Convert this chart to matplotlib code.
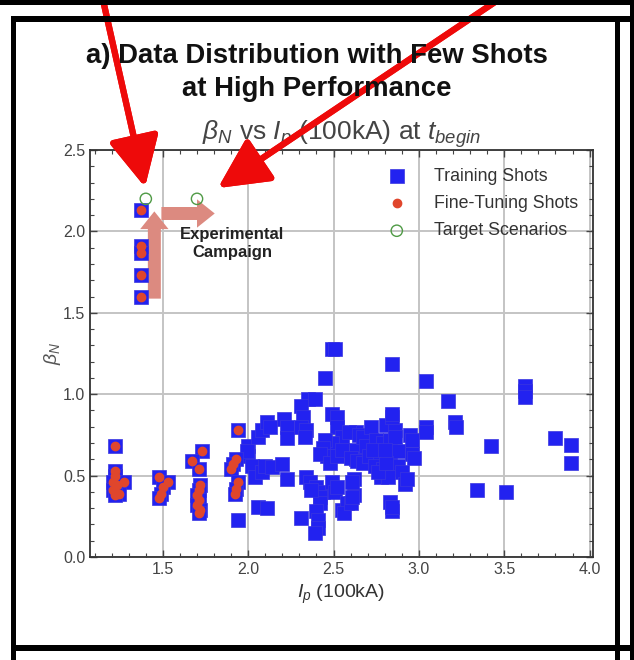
import numpy as np
import matplotlib.pyplot as plt
from matplotlib.patches import Rectangle
from matplotlib.ticker import MultipleLocator

plt.rcParams['font.family'] = ['Liberation Sans', 'DejaVu Sans']
plt.rcParams['mathtext.fontset'] = 'custom'
plt.rcParams['mathtext.rm'] = 'Liberation Sans'
plt.rcParams['mathtext.it'] = 'Liberation Sans:italic'

# training shots (blue squares)
train_ip = [1.94, 2.00, 2.00, 2.02, 2.04, 1.99, 2.06, 2.08, 2.11, 2.13, 2.21, 2.23, 2.23,
            2.08, 2.10, 2.14, 2.20, 2.23, 2.06, 2.11, 2.31,
            2.35, 2.39, 2.31, 2.32, 2.31, 2.34, 2.33,
            2.34, 2.36, 2.40, 2.44, 2.42, 2.42, 2.40, 2.41, 2.41, 2.39, 2.37,
            2.49, 2.51, 2.45,
            2.49, 2.52, 2.52, 2.55, 2.49, 2.45, 2.44, 2.46, 2.42, 2.48, 2.52, 2.55,
            2.49, 2.51, 2.52, 2.55, 2.58, 2.56, 2.60, 2.62, 2.61, 2.62, 2.61,
            2.63, 2.59, 2.63, 2.63, 2.65, 2.60, 2.64,
            2.65, 2.67, 2.72, 2.81, 2.86, 2.84, 2.84,
            2.69, 2.75, 2.79, 2.83, 2.86,
            2.67, 2.71, 2.77, 2.83, 2.88,
            2.74, 2.79, 2.84, 2.88, 2.78, 2.82, 2.90, 2.76, 2.81, 2.73, 2.80,
            2.92, 2.93, 2.83, 2.84, 2.84, 2.845,
            2.95, 2.96, 2.96, 2.97,
            3.04, 3.04, 3.04, 3.17, 3.21, 3.22,
            3.42, 3.34, 3.51, 3.62, 3.62, 3.62, 3.80, 3.89, 3.89]
train_beta = [0.23, 0.68, 0.62, 0.56, 0.49, 0.65, 0.74, 0.78, 0.83, 0.80, 0.85, 0.80, 0.73,
              0.52, 0.56, 0.55, 0.57, 0.48, 0.31, 0.30, 0.24,
              0.97, 0.97, 0.93, 0.86, 0.80, 0.78, 0.74,
              0.49, 0.46, 0.43, 0.40, 0.37, 0.33, 0.28, 0.23, 0.18, 0.15, 0.41,
              1.28, 1.28, 1.10,
              0.88, 0.86, 0.80, 0.74, 0.70, 0.72, 0.67, 0.62, 0.63, 0.58, 0.62, 0.66,
              0.46, 0.40, 0.43, 0.29, 0.33, 0.27, 0.33, 0.38, 0.37, 0.48, 0.46,
              0.77, 0.77, 0.66, 0.60, 0.60, 0.61, 0.59,
              0.75, 0.74, 0.80, 0.81, 0.78, 0.86, 0.88,
              0.68, 0.72, 0.70, 0.72, 0.74,
              0.58, 0.62, 0.62, 0.62, 0.65,
              0.56, 0.54, 0.54, 0.56, 0.49, 0.49, 0.52, 0.52, 0.58, 0.66, 0.66,
              0.45, 0.48, 0.34, 0.28, 0.31, 1.185,
              0.75, 0.72, 0.63, 0.61,
              1.08, 0.80, 0.77, 0.96, 0.83, 0.80,
              0.68, 0.41, 0.40, 1.05, 1.02, 0.98, 0.73, 0.69, 0.58]

# fine-tuning shots (red dots)
ft_ip = [1.22, 1.22, 1.22, 1.21, 1.23, 1.27, 1.21, 1.24, 1.22,
         1.48, 1.53, 1.50, 1.49, 1.48,
         1.73, 1.67, 1.71, 1.72, 1.71, 1.70, 1.71, 1.70, 1.72, 1.71,
         1.94, 1.93, 1.91, 1.90, 1.94, 1.93, 1.92,
         1.37, 1.37, 1.37, 1.37, 1.37]
ft_beta = [0.68, 0.53, 0.50, 0.46, 0.44, 0.46, 0.41, 0.39, 0.38,
           0.49, 0.46, 0.43, 0.39, 0.36,
           0.65, 0.59, 0.54, 0.44, 0.41, 0.38, 0.35, 0.32, 0.29, 0.27,
           0.78, 0.60, 0.57, 0.54, 0.46, 0.42, 0.39,
           2.13, 1.91, 1.87, 1.73, 1.60]

# target scenarios (open green circles)
target_ip = [1.40, 1.70]
target_beta = [2.20, 2.20]

W, H = 634, 660
fig = plt.figure(figsize=(W / 100, H / 100), dpi=100)
ax = fig.add_axes([90 / W, 1 - 557 / H, 503 / W, 407 / H])

blue = '#2222f0'
ax.scatter(train_ip, train_beta, marker='s', s=98, color=blue, edgecolor='#3a36e0',
           linewidth=0.5, zorder=3, label='Training Shots')
ax.scatter(ft_ip, ft_beta, marker='s', s=98, color=blue, edgecolor='#3a36e0',
           linewidth=0.5, zorder=3)
ax.scatter(ft_ip, ft_beta, marker='o', s=36, color='#e0462c', zorder=4,
           label='Fine-Tuning Shots')
ax.scatter(target_ip, target_beta, marker='o', s=66, facecolor='none',
           edgecolor='#4f9a45', linewidth=1.0, zorder=4, label='Target Scenarios')

# experimental campaign arrows
arrow_kw = dict(arrowstyle='simple,head_length=0.75,head_width=1.2,tail_width=0.55',
                color='#dc8a80', mutation_scale=17, lw=0)
ax.annotate('', xy=(1.45, 2.14), xytext=(1.45, 1.57), arrowprops=arrow_kw, zorder=2)
ax.annotate('', xy=(1.82, 2.11), xytext=(1.475, 2.11), arrowprops=arrow_kw, zorder=2)
ax.text(1.905, 1.925, 'Experimental\nCampaign', ha='center', va='center',
        fontsize=12, fontweight='bold', color='#222222', linespacing=1.25)

ax.set_xlim(1.073, 4.02)
ax.set_ylim(0, 2.5)
ax.xaxis.set_major_locator(MultipleLocator(0.5))
ax.xaxis.set_minor_locator(MultipleLocator(0.1))
ax.yaxis.set_major_locator(MultipleLocator(0.5))
ax.yaxis.set_minor_locator(MultipleLocator(0.1))
ax.tick_params(which='both', direction='in', top=True, right=True,
               colors='#444444', labelsize=11.5)
ax.tick_params(which='major', length=5, width=1)
ax.tick_params(which='minor', length=3, width=0.8)
ax.grid(True, which='major', color='#c4c4c4', linewidth=1.4)
ax.set_axisbelow(True)
for sp in ax.spines.values():
    sp.set_color('#333333')
    sp.set_linewidth(1.3)

ax.set_xlabel(r'$I_p$ (100kA)', fontsize=14, color='#333333', labelpad=4)
ax.set_ylabel(r'$\beta_N$', fontsize=14, color='#555555', labelpad=0)
ax.set_title(r'$\beta_N$ vs $I_p$ (100kA) at $t_{begin}$', fontsize=19,
             color='#444444', pad=5)

ax.legend(loc='upper right', frameon=False, fontsize=12.8, handletextpad=1.1,
          labelspacing=0.58, borderaxespad=0.6, labelcolor='#333333',
          bbox_to_anchor=(1.006, 1.0))

fig.text(0.5, 1 - 56 / H, 'a) Data Distribution with Few Shots', ha='center',
         va='center', fontsize=19.8, fontweight='bold', color='#111111')
fig.text(0.5, 1 - 89 / H, 'at High Performance', ha='center', va='center',
         fontsize=19.8, fontweight='bold', color='#111111')

# page frame lines around the panel
def band(x0, y0, x1, y1):
    fig.add_artist(Rectangle((x0 / W, 1 - y1 / H), (x1 - x0) / W, (y1 - y0) / H,
                             transform=fig.transFigure, color='black', lw=0, zorder=5))

band(0, 0, W, 5)
band(11, 16, W, 22)
band(11, 16, 15.5, H)
band(615, 16, 619.5, H)
band(630, 0, W, H)
band(11, 645, W, 651)

# red pointer arrows from above
red_kw = dict(arrowstyle='-|>,head_length=1.4,head_width=0.7', color='#ee0a0a',
              lw=4.5, mutation_scale=22, shrinkA=0, shrinkB=0)
fig.add_artist(plt.annotate('', xy=(145 / W, 1 - 187 / H), xytext=(103 / W, 1.0),
                            xycoords='figure fraction', arrowprops=red_kw))
fig.add_artist(plt.annotate('', xy=(218 / W, 1 - 188 / H), xytext=(498 / W, 1.0),
                            xycoords='figure fraction', arrowprops=red_kw))

fig.savefig('out.png', dpi=100, facecolor='white')
